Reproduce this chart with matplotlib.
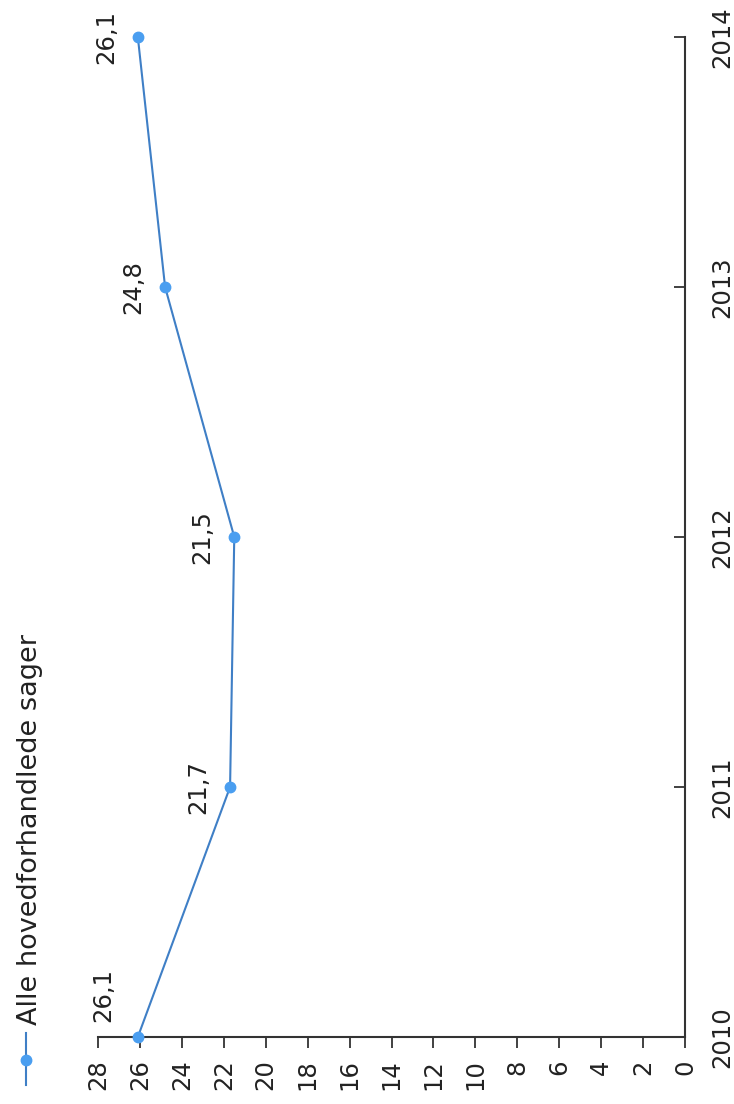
import matplotlib
matplotlib.use("Agg")
import matplotlib.pyplot as plt
from matplotlib.lines import Line2D

years = [2010, 2011, 2012, 2013, 2014]
values = [26.1, 21.7, 21.5, 24.8, 26.1]
value_labels = ["26,1", "21,7", "21,5", "24,8", "26,1"]
value_ticks = list(range(0, 29, 2))
series_name = "Alle hovedforhandlede sager"

plt.rcParams['font.family'] = ['DejaVu Sans']
FS = 17.5
W, H = 734, 1104
fig = plt.figure(figsize=(W / 100, H / 100), dpi=100)

left, right, top, bottom = 98, 685, 37, 1037
ax = fig.add_axes([left / W, 1 - bottom / H, (right - left) / W, (bottom - top) / H])

line_col = "#3f7fc6"
mark_col = "#4a9ef0"
ax.plot(values, years, color=line_col, lw=1.5, marker='o', ms=7.5,
        markerfacecolor=mark_col, markeredgecolor=mark_col, clip_on=False, zorder=3)

ax.set_xlim(28, 0)
ax.set_ylim(2010, 2014)
for s in ['top', 'left']:
    ax.spines[s].set_visible(False)
for s in ['bottom', 'right']:
    ax.spines[s].set_color('#333333')
    ax.spines[s].set_linewidth(1.5)

ax.set_xticks(value_ticks)
ax.set_xticklabels([str(v) for v in value_ticks], rotation=90, fontsize=FS, color='#222222')
ax.tick_params(axis='x', direction='out', length=8, width=1.3, color='#333333', pad=8)

ax.yaxis.tick_right()
ax.set_yticks(years)
ax.set_yticklabels([str(y) for y in years], rotation=90, va='center', fontsize=FS, color='#222222')
ax.tick_params(axis='y', direction='in', length=8, width=1.3, color='#333333', pad=18)

for i, (v, y, lab) in enumerate(zip(values, years, value_labels)):
    dx, dy = (-23, 42) if i == 0 else (-20, 0)
    ax.annotate(lab, (v, y), xytext=(dx, dy), textcoords='offset pixels',
                rotation=90, ha='right', va='center', fontsize=FS, color='#222222')

# legend (rotated)
lx = 26 / W
fig.add_artist(Line2D([lx, lx], [1 - 1085 / H, 1 - 1033 / H], color=line_col, lw=1.5,
                      transform=fig.transFigure))
fig.add_artist(Line2D([lx], [1 - 1060 / H], marker='o', ms=7.5, color=mark_col,
                      transform=fig.transFigure))
fig.text(30 / W, 1 - 1025 / H, series_name, rotation=90, ha='center', va='bottom',
         fontsize=19.5, color='#222222')

fig.savefig("out.png", dpi=100)
